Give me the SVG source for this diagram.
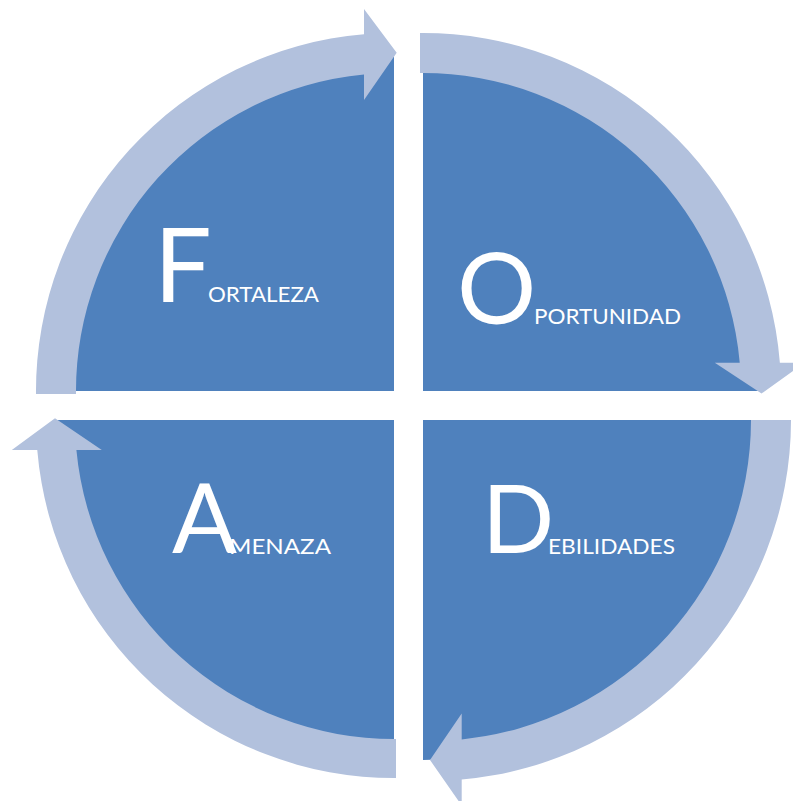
<svg xmlns="http://www.w3.org/2000/svg" width="793" height="801" viewBox="0 0 793 801">
<style>
.q{fill:#4F81BD}
.ring{fill:#B2C1DD}
.big{font-family:Lato,"Open Sans","Liberation Sans",sans-serif;fill:#FFFFFF}
.small{font-family:Lato,"Open Sans","Liberation Sans",sans-serif;font-size:22px;fill:#FFFFFF}
</style>
<rect width="793" height="801" fill="#FFFFFF"/>
<g id="fortaleza">
<path class="q" d="M394,391 L394,51 A340,340 0 0 0 54,391 Z"/>
<text class="big" x="154" y="301.7" font-size="102">F</text>
<text class="small" x="208" y="301.7" textLength="111" lengthAdjust="spacingAndGlyphs">ORTALEZA</text>
</g>
<g id="oportunidad">
<path class="q" d="M423,391 L763,391 A340,340 0 0 0 423,51 Z"/>
<text class="big" x="457" y="324" font-size="99">O</text>
<text class="small" x="534" y="324.3" textLength="147" lengthAdjust="spacingAndGlyphs">PORTUNIDAD</text>
</g>
<g id="debilidades">
<path class="q" d="M423,420 L423,760 A340,340 0 0 0 763,420 Z"/>
<text class="big" x="482" y="553" font-size="95">D</text>
<text class="small" x="548" y="554" textLength="127" lengthAdjust="spacingAndGlyphs">EBILIDADES</text>
</g>
<g id="amenaza">
<path class="q" d="M394,420 L54,420 A340,340 0 0 0 394,760 Z"/>
<text class="big" x="172" y="553.3" font-size="96">A</text>
<text class="small" x="229" y="554" textLength="102" lengthAdjust="spacingAndGlyphs">MENAZA</text>
</g>
<g id="connectors">
<path class="ring" d="M36,394 A358,358 0 0 1 364,34.26 L364,9 L396.7,52.7 L364,100 L364,74.42 A318,318 0 0 0 76,394 Z"/>
<path class="ring" d="M420,33 A358,358 0 0 1 779.88,362.7 L804.8,362.7 L761.5,393.5 L714.8,362.7 L739.74,362.7 A318,318 0 0 0 420,73 Z"/>
<path class="ring" d="M791,420 A361,361 0 0 1 461.7,779.6 L461.7,805.5 L430,760 L461.7,713.5 L461.7,739.4 A321,321 0 0 0 751,420 Z"/>
<path class="ring" d="M396,778 A358,358 0 0 1 37.26,450 L11.8,450 L55,418.3 L101.8,450 L76.41,450 A319,319 0 0 0 396,739 Z"/>
</g>
</svg>
